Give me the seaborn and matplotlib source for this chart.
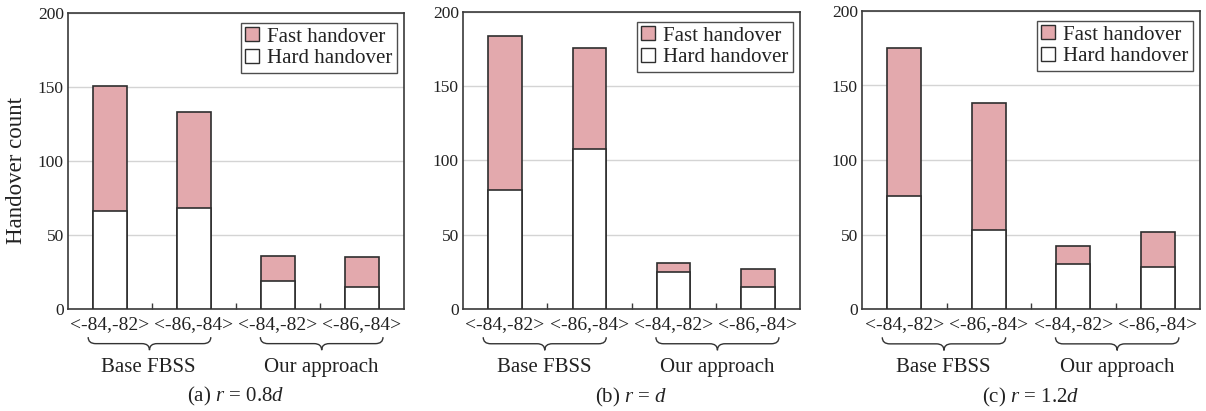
import matplotlib
matplotlib.use("Agg")
import matplotlib.pyplot as plt
from matplotlib.patches import Patch, PathPatch
from matplotlib.path import Path
import matplotlib.transforms as mtransforms
import seaborn as sns
import pandas as pd

# ---- data ----
ranges = ["<-84,-82>", "<-86,-84>", "<-84,-82>", "<-86,-84>"]
groups = ["Base FBSS", "Base FBSS", "Our approach", "Our approach"]
captions = ["(a) $r$ = 0.8$d$", "(b) $r$ = $d$", "(c) $r$ = 1.2$d$"]
total_a = [151, 133, 36, 35]
hard_a = [66, 68, 19, 15]
total_b = [184, 176, 31, 27]
hard_b = [80, 108, 25, 15]
total_c = [175, 138, 42, 52]
hard_c = [76, 53, 30, 28]
yticks = [0, 50, 100, 150, 200]

totals = [total_a, total_b, total_c]
hards = [hard_a, hard_b, hard_c]

sns.set_theme(style="white")
plt.rcParams["font.family"] = ["Liberation Serif", "DejaVu Serif"]
plt.rcParams["mathtext.fontset"] = "custom"
plt.rcParams["mathtext.rm"] = "Liberation Serif"
plt.rcParams["mathtext.it"] = "Liberation Serif:italic"

PINK = "#e3a9ad"
EDGE = "#2e2e2e"
SPINE = "#3a3a3a"
TXT = "#222222"

fig = plt.figure(figsize=(12.06, 4.11), dpi=100)
H = 411.0
W = 1206.0
rects = [(68, 404, 13, 309), (463, 800, 12, 309), (862, 1200, 11, 309)]


def brace(ax, x0, x1, ytop, ybot, r=0.09):
    xc = (x0 + x1) / 2.0
    ymid = (ytop + ybot) / 2.0
    verts = [
        (x0, ytop), (x0, ymid), (x0 + r, ymid),
        (xc - r, ymid),
        (xc, ymid), (xc, ybot),
        (xc, ymid), (xc + r, ymid),
        (x1 - r, ymid),
        (x1, ymid), (x1, ytop),
    ]
    codes = [Path.MOVETO, Path.CURVE3, Path.CURVE3,
             Path.LINETO,
             Path.CURVE3, Path.CURVE3,
             Path.CURVE3, Path.CURVE3,
             Path.LINETO,
             Path.CURVE3, Path.CURVE3]
    trans = mtransforms.blended_transform_factory(ax.transData, ax.transAxes)
    p = PathPatch(Path(verts, codes), facecolor="none", edgecolor="#333333",
                  lw=1.0, transform=trans, clip_on=False)
    ax.add_patch(p)


for i in range(3):
    l, r_, t, b = rects[i]
    ax = fig.add_axes([l / W, (H - b) / H, (r_ - l) / W, (b - t) / H])
    keys = [f"{g}|{k}|{j}" for j, (g, k) in enumerate(zip(groups, ranges))]
    df = pd.DataFrame({"key": keys, "total": totals[i], "hard": hards[i]})
    ax.set_axisbelow(True)
    ax.yaxis.grid(True, color="#d4d4d4", lw=1.0)
    sns.barplot(data=df, x="key", y="total", color=PINK, saturation=1,
                edgecolor=EDGE, linewidth=1.2, width=0.4, ax=ax, zorder=2)
    sns.barplot(data=df, x="key", y="hard", color="white", saturation=1,
                edgecolor=EDGE, linewidth=1.2, width=0.4, ax=ax, zorder=3)
    ax.set_xlim(-0.5, 3.5)
    ax.set_ylim(0, 200)
    ax.set_yticks(yticks)
    ax.set_xticks(range(4))
    ax.set_xticklabels(ranges, fontsize=14)
    ax.set_xticks([0.5, 1.5, 2.5], minor=True)
    ax.tick_params(axis="x", which="major", length=0, pad=5)
    ax.tick_params(axis="x", which="minor", direction="in", length=4,
                   width=1, color=SPINE, bottom=True)
    ax.tick_params(axis="y", length=0, pad=3, labelsize=12.5)
    ax.set_xlabel("")
    ax.set_ylabel("")
    for sp in ax.spines.values():
        sp.set_visible(True)
        sp.set_color(SPINE)
        sp.set_linewidth(1.2)
    for lab in ax.get_yticklabels() + ax.get_xticklabels():
        lab.set_color(TXT)

    brace(ax, -0.26, 1.2, -0.095, -0.139)
    brace(ax, 1.79, 3.25, -0.095, -0.139)
    trans = mtransforms.blended_transform_factory(ax.transData, ax.transAxes)
    ax.text(0.46, -0.196, "Base FBSS", transform=trans, ha="center",
            va="center", fontsize=15, color=TXT)
    ax.text(2.52, -0.196, "Our approach", transform=trans, ha="center",
            va="center", fontsize=15, color=TXT)
    ax.text(0.5, -0.297, captions[i], transform=ax.transAxes, ha="center",
            va="center", fontsize=15, color=TXT)

    handles = [Patch(facecolor=PINK, edgecolor=EDGE, lw=1.0, label="Fast handover"),
               Patch(facecolor="white", edgecolor=EDGE, lw=1.0, label="Hard handover")]
    leg = ax.legend(handles=handles, loc="upper right",
                    bbox_to_anchor=(0.98, 0.967), fontsize=15,
                    frameon=True, fancybox=False, handlelength=0.65,
                    handleheight=0.65, handletextpad=0.4, labelspacing=0.1,
                    borderpad=0.22, borderaxespad=0.0)
    leg.get_frame().set_edgecolor(TXT)
    leg.get_frame().set_linewidth(1.0)
    for tx in leg.get_texts():
        tx.set_color(TXT)

    if i == 0:
        fig.text(17 / W, 1 - 170 / H, "Handover count", rotation=90,
                 ha="center", va="center", fontsize=16.5, color=TXT)

fig.savefig("out.png", dpi=100)
